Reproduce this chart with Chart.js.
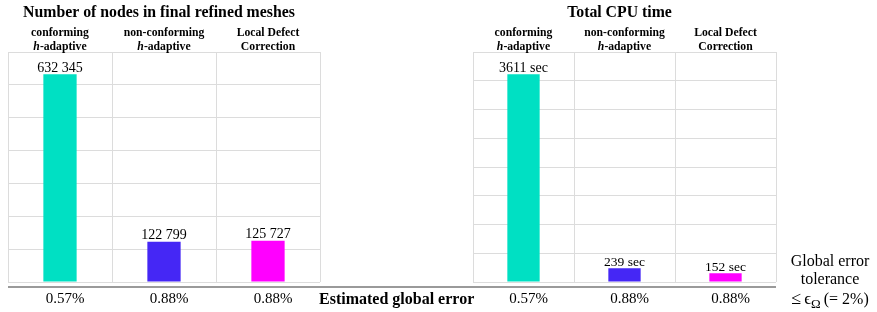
<!DOCTYPE html>
<html>
<head>
<meta charset="utf-8">
<script src="https://cdn.jsdelivr.net/npm/chart.js@4.4.1/dist/chart.umd.min.js"></script>
<style>
body { margin: 0; background: #fff; width: 877px; height: 312px; overflow: hidden; position: relative; font-family: "Liberation Serif", "Times New Roman", serif; }
canvas { position: absolute; top: 0; }
#nodesChart { left: 0; }
#cpuChart { left: 460px; }
.rule { position: absolute; left: 8px; top: 286px; width: 768px; border-top: 2px solid #9a9a9a; }
.xname { position: absolute; left: 319px; top: 290px; font-weight: bold; font-size: 16px; line-height: 18px; white-space: nowrap; }
.tol { position: absolute; left: 775px; top: 252px; width: 110px; text-align: center; font-size: 16px; line-height: 18.3px; white-space: nowrap; }
.tol .le { font-size: 18px; margin-right: 3px; }
.tol .eps { font-size: 17px; }
.tol sub { font-size: 13px; line-height: 0; margin-right: 3px; }
</style>
</head>
<body>
<canvas id="nodesChart" width="330" height="312"></canvas>
<canvas id="cpuChart" width="330" height="312"></canvas>
<div class="rule"></div>
<div class="xname">Estimated global error</div>
<div class="tol">Global error<br>tolerance<br><span class="le">≤</span><span class="eps">ϵ</span><sub>Ω</sub>(= 2%)</div>

<script>
// Data
const methods = [
	['conforming', 'h-adaptive'],
	['non-conforming', 'h-adaptive'],
	['Local Defect', 'Correction']
];
const nodeCounts = [632345, 122799, 125727];
const cpuSeconds = [3611, 239, 152];
const globalErrors = ['0.57%', '0.88%', '0.88%'];
const barColors = ['#00e0c3', '#4527f5', '#ff00ff'];

const nodesMax = 700000, nodesStep = 100000;
const cpuMax = 4000, cpuStep = 500;

const SERIF = '"Liberation Serif", "Times New Roman", serif';

function spaced(n) {
	return String(n).replace(/\B(?=(\d{3})+(?!\d))/g, ' ');
}

// draws a header line, italic "h" where needed
function headerLine(ctx, text, cx, y) {
	const bold = 'bold 11.7px ' + SERIF;
	const ital = 'italic bold 11.7px ' + SERIF;
	if (text.startsWith('h-')) {
		ctx.font = ital;
		const w1 = ctx.measureText('h').width;
		ctx.font = bold;
		const w2 = ctx.measureText(text.slice(1)).width;
		const x0 = cx - (w1 + w2) / 2;
		ctx.textAlign = 'left';
		ctx.font = ital;
		ctx.fillText('h', x0, y);
		ctx.font = bold;
		ctx.fillText(text.slice(1), x0 + w1, y);
		ctx.textAlign = 'center';
	} else {
		ctx.font = bold;
		ctx.fillText(text, cx, y);
	}
}

const textPlugin = {
	id: 'texts',
	afterDatasetsDraw(chart, args, opts) {
		const ctx = chart.ctx;
		const area = chart.chartArea;
		const xs = chart.scales.x;
		const meta = chart.getDatasetMeta(0);
		ctx.save();
		ctx.fillStyle = '#000';
		ctx.textAlign = 'center';
		ctx.textBaseline = 'middle';

		ctx.font = 'bold 15.8px ' + SERIF;
		ctx.fillText(opts.title, (area.left + area.right) / 2 - 5, 13);

		methods.forEach((lines, i) => {
			const cx = xs.getPixelForValue(i);
			headerLine(ctx, lines[0], cx, 33);
			headerLine(ctx, lines[1], cx, 47);
		});

		ctx.textBaseline = 'alphabetic';
		meta.data.forEach((bar, i) => {
			ctx.font = opts.valueSizes[i] + 'px ' + SERIF;
			ctx.fillText(opts.valueText[i], bar.x, bar.y - 2.5);
		});

		ctx.textBaseline = 'middle';
		ctx.font = '15px ' + SERIF;
		globalErrors.forEach((t, i) => {
			ctx.fillText(t, xs.getPixelForValue(i) + 5, 299);
		});
		ctx.restore();
	}
};

function makeChart(id, values, maxV, step, padL, padR, plug) {
	return new Chart(document.getElementById(id), {
		type: 'bar',
		data: {
			labels: methods.map(m => m.join(' ')),
			datasets: [{
				data: values,
				backgroundColor: barColors,
				borderWidth: 0,
				barPercentage: 0.32,
				categoryPercentage: 1
			}]
		},
		options: {
			responsive: false,
			animation: false,
			layout: { padding: { left: padL, right: padR, top: 52, bottom: 30 } },
			scales: {
				x: {
					ticks: { display: false },
					grid: { color: '#dcdcdc', drawTicks: false, offset: true },
					border: { display: false }
				},
				y: {
					min: 0,
					max: maxV,
					ticks: { display: false, stepSize: step },
					grid: { color: '#dcdcdc', drawTicks: false },
					border: { display: false }
				}
			},
			plugins: {
				legend: { display: false },
				tooltip: { enabled: false },
				texts: plug
			}
		},
		plugins: [textPlugin]
	});
}

makeChart('nodesChart', nodeCounts, nodesMax, nodesStep, 8, 10, {
	title: 'Number of nodes in final refined meshes',
	valueText: nodeCounts.map(spaced),
	valueSizes: [14, 14, 14]
});

makeChart('cpuChart', cpuSeconds, cpuMax, cpuStep, 13, 14, {
	title: 'Total CPU time',
	valueText: cpuSeconds.map(v => v + ' sec'),
	valueSizes: [14, 13.5, 13.5]
});
</script>
</body>
</html>
